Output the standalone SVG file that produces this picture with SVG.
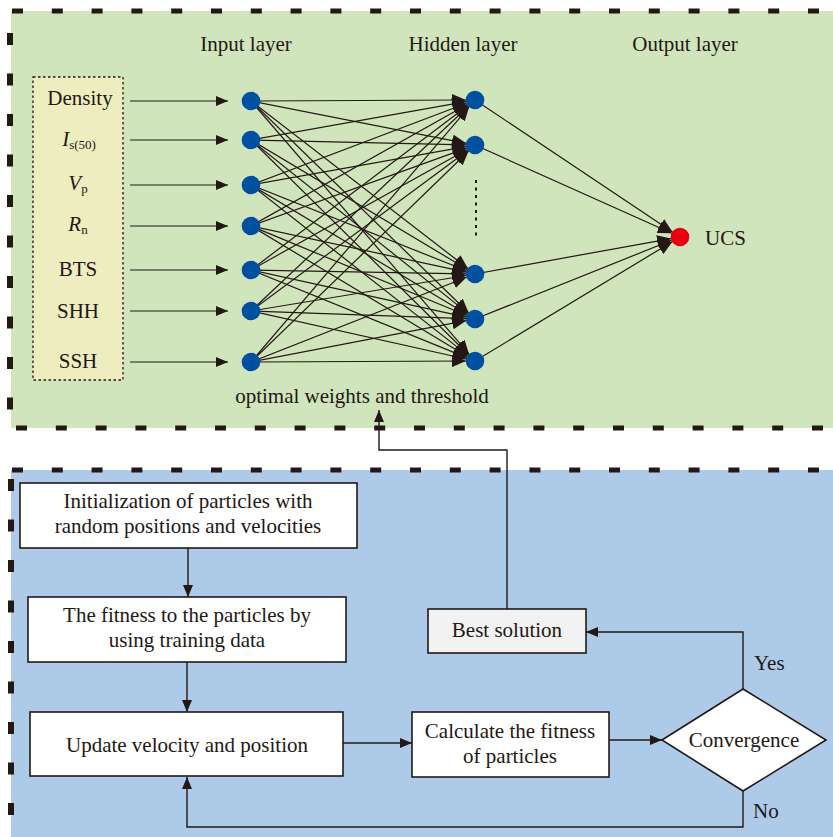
<svg xmlns="http://www.w3.org/2000/svg" width="833" height="837" viewBox="0 0 833 837">
<style>
text{font-family:"Liberation Serif","Times New Roman",serif;font-size:21px;fill:#231815}
.c{text-anchor:middle}
.ln{stroke:#231815;stroke-width:1.2;fill:none}
.fl{stroke:#231815;stroke-width:1.4;fill:none}
.bx{fill:#ffffff;stroke:#231815;stroke-width:1.6}
.dh{stroke:#231815;stroke-width:5;fill:none;stroke-dasharray:11 28.8}
.dv{stroke:#231815;stroke-width:6;fill:none;stroke-dasharray:12 28.5}
.in{fill:#0050a2}
</style>
<defs>
<marker id="ah" viewBox="0 0 12 10" refX="12" refY="5" markerWidth="12" markerHeight="10" markerUnits="userSpaceOnUse" orient="auto"><path d="M0,0 L12,5 L0,10 z" fill="#231815"/></marker>
<marker id="ahb" viewBox="0 0 14 12" refX="14" refY="6" markerWidth="14" markerHeight="12" markerUnits="userSpaceOnUse" orient="auto"><path d="M0,0 L14,6 L0,12 z" fill="#231815"/></marker>
</defs>

<g id="panels">
<rect x="11" y="11" width="822" height="417" fill="#d1e5bc"/>
<rect x="11" y="470" width="822" height="367" fill="#aecae9"/>
<path class="dh" d="M12,11 H833"/>
<path class="dh" d="M16,428 H833"/>
<path class="dh" d="M12,470 H833"/>
<path class="dv" d="M10,33 V428"/>
<path class="dv" d="M11,479 V837"/>
</g>

<g id="layer-titles">
<text class="c" x="246" y="51">Input layer</text>
<text class="c" x="463" y="51">Hidden layer</text>
<text class="c" x="685" y="51">Output layer</text>
</g>

<g id="input-box">
<rect x="33" y="77" width="90" height="303" fill="#eeedbf" stroke="#231815" stroke-width="1.3" stroke-dasharray="2.5 2.5"/>
<text class="c" x="80" y="105">Density</text>
<text class="c" x="79" y="146"><tspan font-style="italic">I</tspan><tspan font-size="13" dy="3">s(50)</tspan></text>
<text class="c" x="78" y="190"><tspan font-style="italic">V</tspan><tspan font-size="13" dy="3">p</tspan></text>
<text class="c" x="78" y="231"><tspan font-style="italic">R</tspan><tspan font-size="13" dy="3">n</tspan></text>
<text class="c" x="78" y="276">BTS</text>
<text class="c" x="78" y="318">SHH</text>
<text class="c" x="78" y="368">SSH</text>
</g>

<g id="connectors">
<line class="ln" x1="130" y1="101" x2="228" y2="101" marker-end="url(#ah)"/>
<line class="ln" x1="130" y1="140" x2="228" y2="140" marker-end="url(#ah)"/>
<line class="ln" x1="130" y1="185" x2="228" y2="185" marker-end="url(#ah)"/>
<line class="ln" x1="130" y1="226" x2="228" y2="226" marker-end="url(#ah)"/>
<line class="ln" x1="130" y1="270" x2="228" y2="270" marker-end="url(#ah)"/>
<line class="ln" x1="130" y1="311" x2="228" y2="311" marker-end="url(#ah)"/>
<line class="ln" x1="130" y1="362" x2="228" y2="362" marker-end="url(#ah)"/>

<g id="input-hidden">
<line class="ln" x1="251" y1="101" x2="466" y2="100" marker-end="url(#ahb)"/>
<line class="ln" x1="251" y1="140" x2="466.1" y2="101.6" marker-end="url(#ahb)"/>
<line class="ln" x1="251" y1="185" x2="466.6" y2="103.2" marker-end="url(#ahb)"/>
<line class="ln" x1="251" y1="226" x2="467.2" y2="104.4" marker-end="url(#ahb)"/>
<line class="ln" x1="251" y1="270" x2="467.8" y2="105.4" marker-end="url(#ahb)"/>
<line class="ln" x1="251" y1="311" x2="468.4" y2="106.2" marker-end="url(#ahb)"/>
<line class="ln" x1="251" y1="362" x2="469.2" y2="106.8" marker-end="url(#ahb)"/>

<line class="ln" x1="251" y1="101" x2="466.2" y2="143.3" marker-end="url(#ahb)"/>
<line class="ln" x1="251" y1="140" x2="466" y2="144.8" marker-end="url(#ahb)"/>
<line class="ln" x1="251" y1="185" x2="466.1" y2="146.6" marker-end="url(#ahb)"/>
<line class="ln" x1="251" y1="226" x2="466.5" y2="148.1" marker-end="url(#ahb)"/>
<line class="ln" x1="251" y1="270" x2="467.1" y2="149.4" marker-end="url(#ahb)"/>
<line class="ln" x1="251" y1="311" x2="467.8" y2="150.4" marker-end="url(#ahb)"/>
<line class="ln" x1="251" y1="362" x2="468.5" y2="151.3" marker-end="url(#ahb)"/>

<line class="ln" x1="251" y1="101" x2="467.9" y2="268.5" marker-end="url(#ahb)"/>
<line class="ln" x1="251" y1="140" x2="467.3" y2="269.4" marker-end="url(#ahb)"/>
<line class="ln" x1="251" y1="185" x2="466.6" y2="270.7" marker-end="url(#ahb)"/>
<line class="ln" x1="251" y1="226" x2="466.2" y2="272.1" marker-end="url(#ahb)"/>
<line class="ln" x1="251" y1="270" x2="466" y2="273.8" marker-end="url(#ahb)"/>
<line class="ln" x1="251" y1="311" x2="466.1" y2="275.5" marker-end="url(#ahb)"/>
<line class="ln" x1="251" y1="362" x2="466.6" y2="277.3" marker-end="url(#ahb)"/>

<line class="ln" x1="251" y1="101" x2="468.6" y2="312.7" marker-end="url(#ahb)"/>
<line class="ln" x1="251" y1="140" x2="468" y2="313.4" marker-end="url(#ahb)"/>
<line class="ln" x1="251" y1="185" x2="467.3" y2="314.4" marker-end="url(#ahb)"/>
<line class="ln" x1="251" y1="226" x2="466.7" y2="315.5" marker-end="url(#ahb)"/>
<line class="ln" x1="251" y1="270" x2="466.2" y2="317.1" marker-end="url(#ahb)"/>
<line class="ln" x1="251" y1="311" x2="466" y2="318.7" marker-end="url(#ahb)"/>
<line class="ln" x1="251" y1="362" x2="466.2" y2="320.7" marker-end="url(#ahb)"/>

<line class="ln" x1="251" y1="101" x2="469.1" y2="354.2" marker-end="url(#ahb)"/>
<line class="ln" x1="251" y1="140" x2="468.6" y2="354.7" marker-end="url(#ahb)"/>
<line class="ln" x1="251" y1="185" x2="467.9" y2="355.4" marker-end="url(#ahb)"/>
<line class="ln" x1="251" y1="226" x2="467.3" y2="356.4" marker-end="url(#ahb)"/>
<line class="ln" x1="251" y1="270" x2="466.7" y2="357.6" marker-end="url(#ahb)"/>
<line class="ln" x1="251" y1="311" x2="466.2" y2="359" marker-end="url(#ahb)"/>
<line class="ln" x1="251" y1="362" x2="466" y2="361" marker-end="url(#ahb)"/>
</g>

<g id="hidden-output">
<line class="ln" x1="475" y1="100" x2="672.5" y2="232" marker-end="url(#ahb)"/>
<line class="ln" x1="475" y1="145" x2="671.8" y2="233.3" marker-end="url(#ahb)"/>
<line class="ln" x1="475" y1="274" x2="671.1" y2="238.6" marker-end="url(#ahb)"/>
<line class="ln" x1="475" y1="319" x2="671.6" y2="240.3" marker-end="url(#ahb)"/>
<line class="ln" x1="475" y1="361" x2="672.3" y2="241.7" marker-end="url(#ahb)"/>
</g>

<line x1="476" y1="180" x2="476" y2="236" stroke="#231815" stroke-width="2" stroke-dasharray="3 4.5"/>

<path class="fl" d="M507,609 V450 H379 V410" marker-end="url(#ah)"/>
<path class="fl" d="M188,548 V597" marker-end="url(#ah)"/>
<path class="fl" d="M187,662 V712" marker-end="url(#ah)"/>
<path class="fl" d="M343,743 H412" marker-end="url(#ah)"/>
<path class="fl" d="M609,740 H662" marker-end="url(#ah)"/>
<path class="fl" d="M743,689 V632 H586" marker-end="url(#ah)"/>
<path class="fl" d="M743,791 V827 H187 V777" marker-end="url(#ah)"/>
</g>

<g id="input-nodes">
<circle class="in" cx="251" cy="101" r="9.3"/>
<circle class="in" cx="251" cy="140" r="9.3"/>
<circle class="in" cx="251" cy="185" r="9.3"/>
<circle class="in" cx="251" cy="226" r="9.3"/>
<circle class="in" cx="251" cy="270" r="9.3"/>
<circle class="in" cx="251" cy="311" r="9.3"/>
<circle class="in" cx="251" cy="362" r="9.3"/>
</g>
<g id="hidden-nodes">
<circle class="in" cx="475" cy="100" r="9.3"/>
<circle class="in" cx="475" cy="145" r="9.3"/>
<circle class="in" cx="475" cy="274" r="9.3"/>
<circle class="in" cx="475" cy="319" r="9.3"/>
<circle class="in" cx="475" cy="361" r="9.3"/>
</g>
<g id="output-node">
<circle cx="680" cy="237" r="9.3" fill="#e60012"/>
<text x="705" y="245">UCS</text>
</g>

<g id="optimal-label">
<text class="c" x="362" y="403">optimal weights and threshold</text>
</g>

<g id="init">
<rect class="bx" x="20" y="483" width="337" height="65"/>
<text class="c" x="188" y="508">Initialization of particles with</text>
<text class="c" x="188" y="533">random positions and velocities</text>
</g>
<g id="fitness">
<rect class="bx" x="28" y="597" width="318" height="65"/>
<text class="c" x="187" y="622">The fitness to the particles by</text>
<text class="c" x="187" y="647">using training data</text>
</g>
<g id="update">
<rect class="bx" x="30" y="712" width="313" height="64"/>
<text class="c" x="187" y="752">Update velocity and position</text>
</g>
<g id="calculate">
<rect class="bx" x="412" y="712" width="197" height="65"/>
<text class="c" x="510" y="738">Calculate the fitness</text>
<text class="c" x="510" y="763">of particles</text>
</g>
<g id="convergence">
<path d="M662,740 L743,689 L826,740 L743,791 z" fill="#ffffff" stroke="#231815" stroke-width="1.6"/>
<text class="c" x="744" y="747">Convergence</text>
</g>
<g id="best">
<rect x="428" y="609" width="158" height="44" fill="#f2f2f2" stroke="#231815" stroke-width="1.6"/>
<text class="c" x="507" y="637">Best solution</text>
</g>
<g id="labels">
<text x="754" y="670">Yes</text>
<text x="753" y="818">No</text>
</g>
</svg>
